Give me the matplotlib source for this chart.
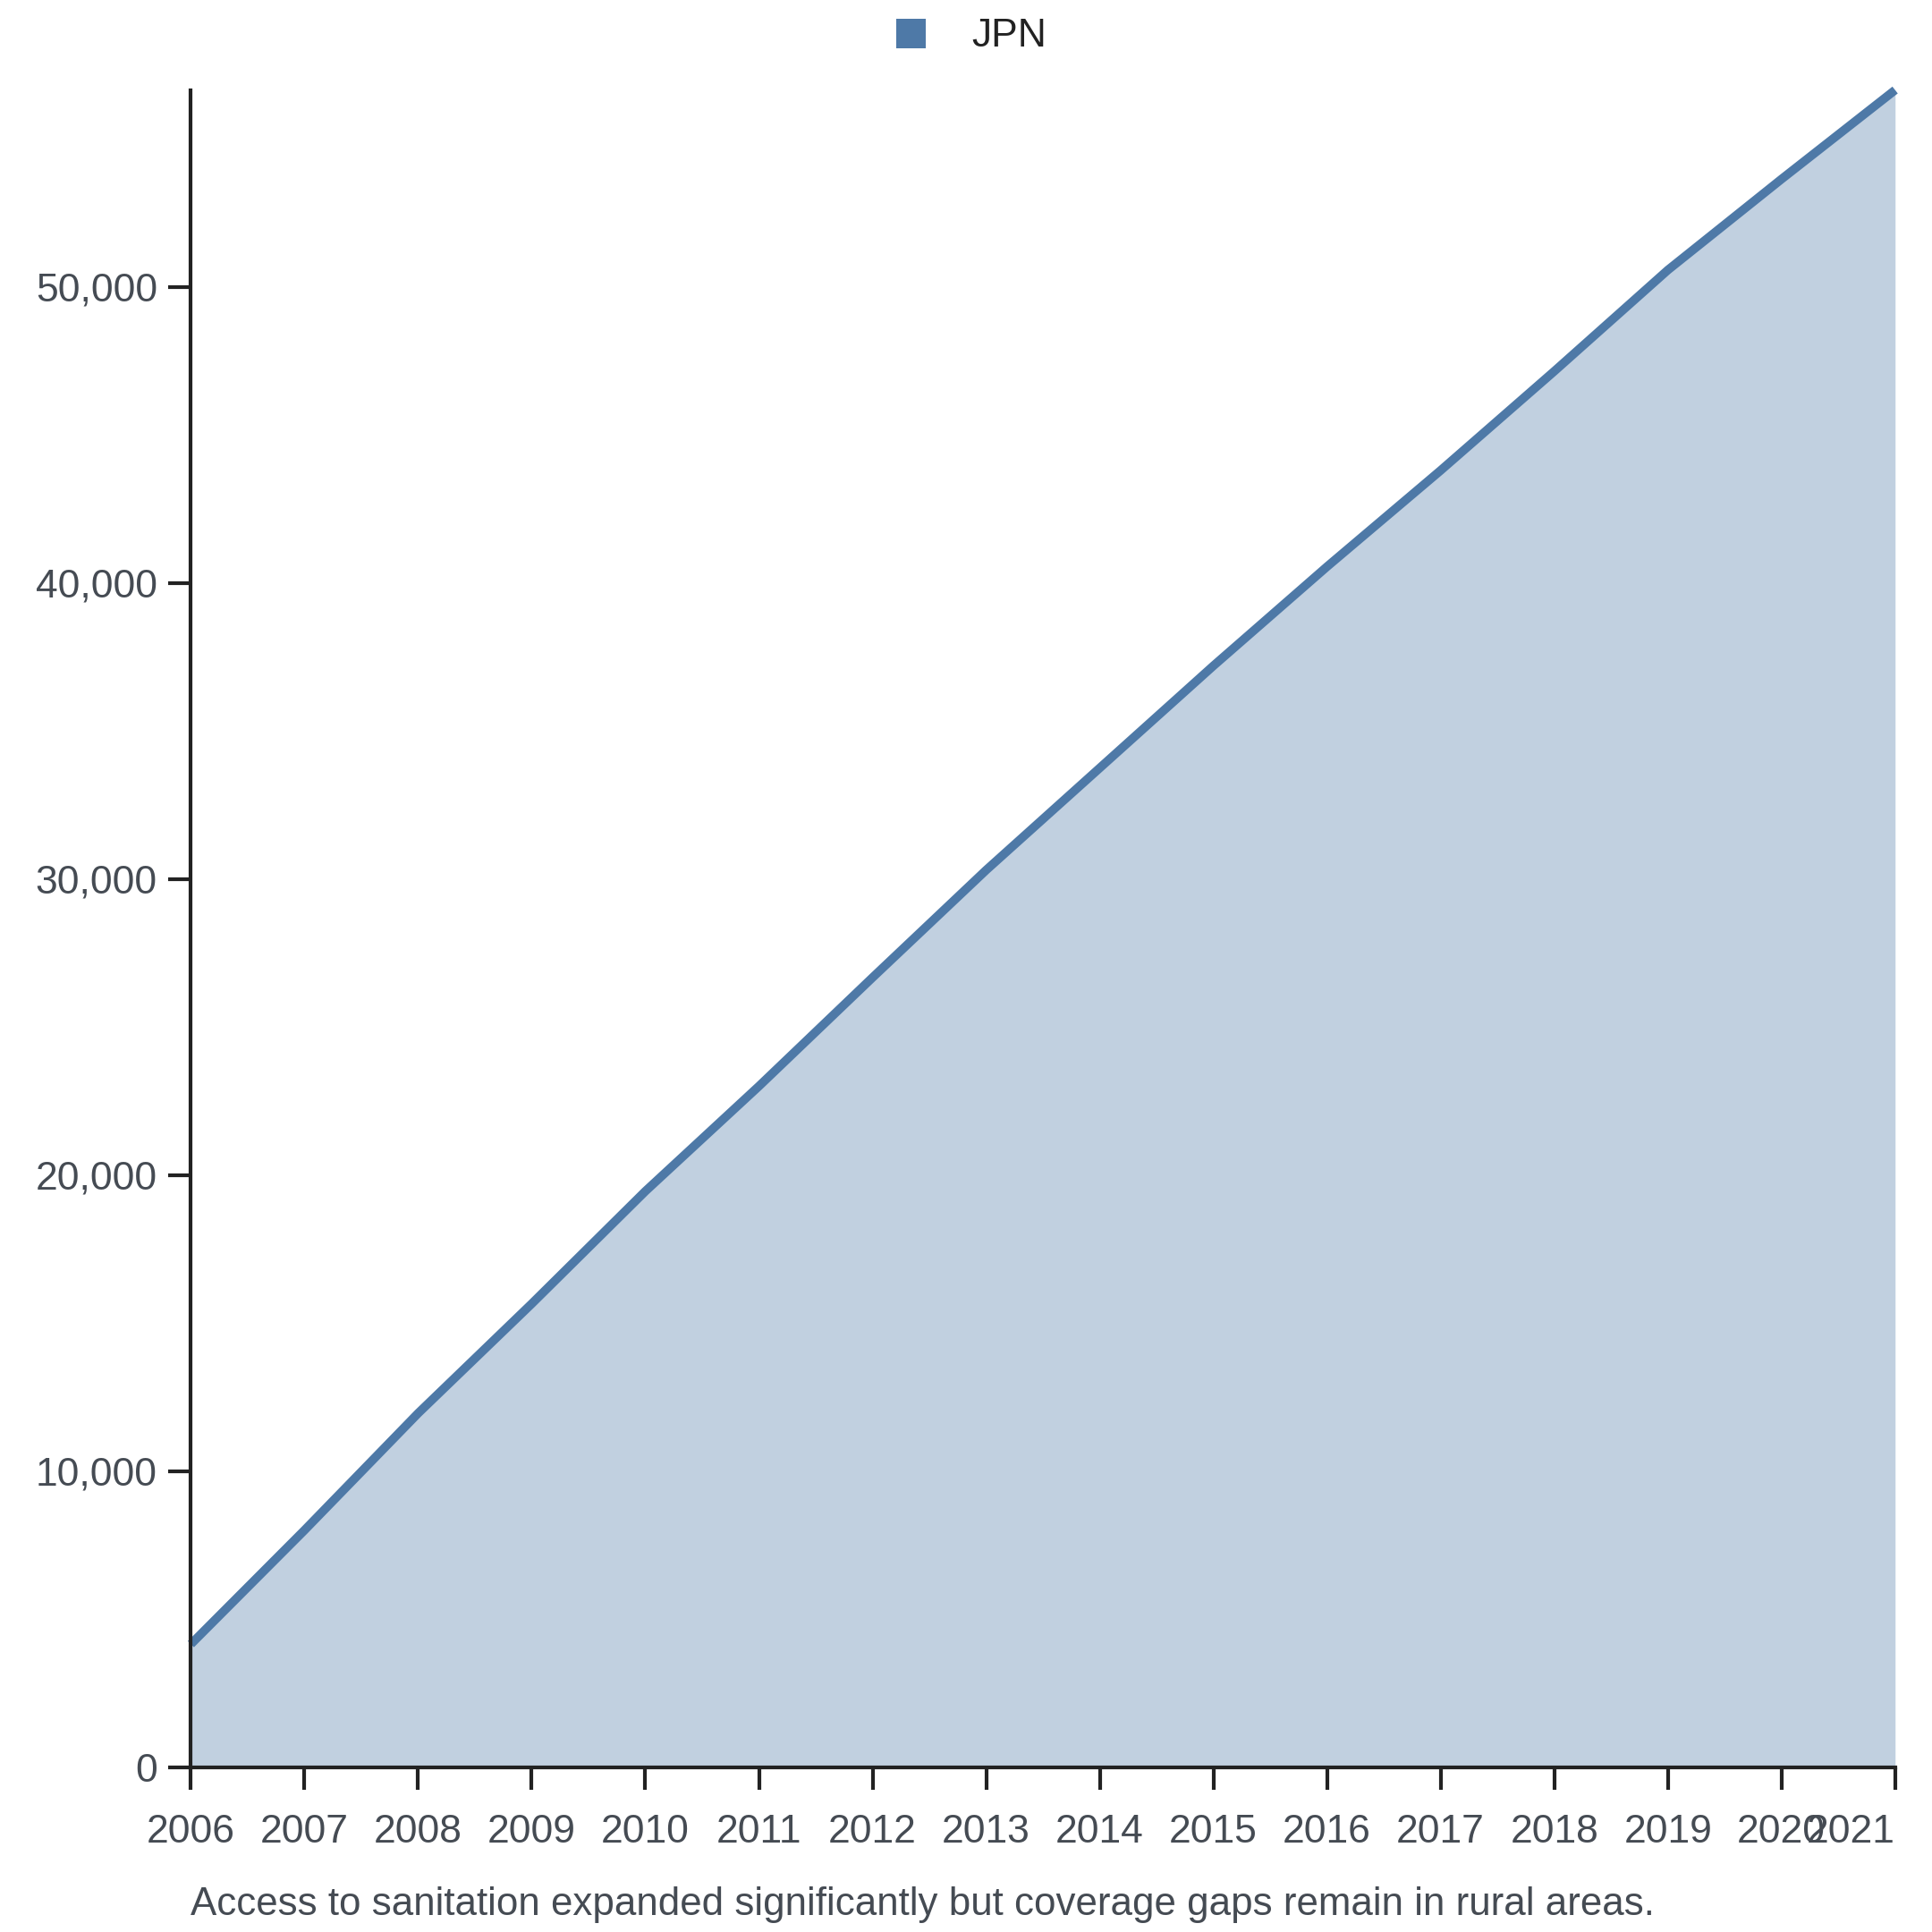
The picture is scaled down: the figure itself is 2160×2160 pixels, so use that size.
import matplotlib.pyplot as plt
from matplotlib.ticker import FuncFormatter
from matplotlib.patches import Rectangle

plt.rcParams['font.family'] = ['Liberation Sans', 'DejaVu Sans']

# Werte
jahre = [2006, 2007, 2008, 2009, 2010, 2011, 2012, 2013,
         2014, 2015, 2016, 2017, 2018, 2019, 2020, 2021]
jpn = [4150, 8000, 11950, 15650, 19450, 23000, 26670, 30300,
       33750, 37200, 40550, 43800, 47150, 50570, 53640, 56650]
y_ticks = [0, 10000, 20000, 30000, 40000, 50000]
serie_name = 'JPN'
caption = 'Access to sanitation expanded significantly but coverage gaps remain in rural areas.'

farbe = '#4e79a7'
text_grau = '#454b53'
achse = '#222222'

fig = plt.figure(figsize=(21.6, 21.6), dpi=100)
ax = fig.add_axes([0.0988, 0.0854, 0.9809 - 0.0988, 0.9534 - 0.0854])

ax.fill_between(jahre, jpn, 0, color=farbe, alpha=0.35, linewidth=0)
ax.plot(jahre, jpn, color=farbe, linewidth=7, solid_capstyle='butt',
        solid_joinstyle='miter', clip_on=False)

ax.set_xlim(jahre[0], jahre[-1])
ax.set_ylim(0, max(jpn))
ax.set_xticks(jahre)
ax.set_yticks(y_ticks)
ax.yaxis.set_major_formatter(FuncFormatter(lambda v, p: f'{int(v):,}'))

for s in ['top', 'right']:
    ax.spines[s].set_visible(False)
for s in ['left', 'bottom']:
    ax.spines[s].set_color(achse)
    ax.spines[s].set_linewidth(3)

ax.tick_params(axis='both', direction='out', length=18, width=3,
               color=achse, labelsize=32, labelcolor=text_grau)
ax.tick_params(axis='x', pad=20)
ax.tick_params(axis='y', pad=9)

# letzte Jahreszahl rechtsbündig, damit sie im Bild bleibt
ax.get_xticklabels()[-1].set_horizontalalignment('right')

# Legende oben mittig
fig.patches.append(Rectangle((1002 / 2160, 1 - 54 / 2160), 33 / 2160, 33 / 2160,
                             transform=fig.transFigure, facecolor=farbe,
                             edgecolor='none'))
fig.text(1086 / 2160, 1 - 41 / 2160, serie_name, fontsize=32, color='#222222',
         ha='left', va='center')

fig.text(213 / 2160, 1 - 2130 / 2160, caption, fontsize=31.6, color=text_grau,
         ha='left', va='center')

fig.savefig('out.png', dpi=100, facecolor='white')
